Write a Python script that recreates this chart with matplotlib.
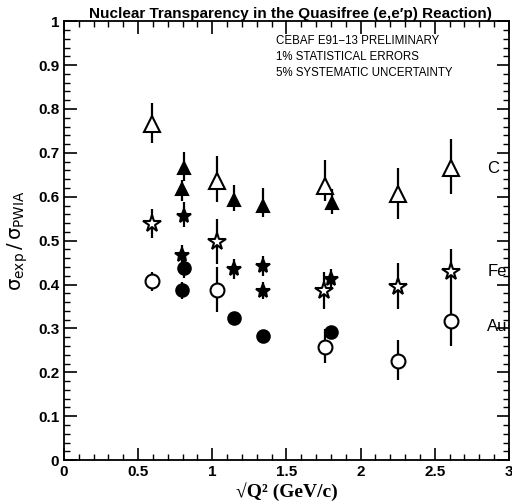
# -*- coding: utf-8 -*-

import numpy as np
import matplotlib
matplotlib.use("Agg")
import matplotlib.pyplot as plt
from matplotlib.ticker import MultipleLocator

# Kohlenstoff (C)
c_open_x = [0.59, 1.03, 1.76, 2.25, 2.61]
c_open_y = [0.765, 0.635, 0.625, 0.606, 0.665]
c_open_lo = [0.723, 0.587, 0.59, 0.549, 0.606]
c_open_hi = [0.814, 0.693, 0.683, 0.665, 0.731]

c_full_x = [0.795, 0.81, 1.145, 1.345, 1.805]
c_full_y = [0.617, 0.665, 0.592, 0.58, 0.585]
c_full_lo = [0.59, 0.636, 0.567, 0.553, 0.56]
c_full_hi = [0.638, 0.703, 0.627, 0.62, 0.617]

# Eisen (Fe)
fe_open_x = [0.59, 1.03, 1.755, 2.255, 2.61]
fe_open_y = [0.538, 0.498, 0.386, 0.395, 0.428]
fe_open_lo = [0.507, 0.447, 0.345, 0.345, 0.38]
fe_open_hi = [0.572, 0.549, 0.428, 0.45, 0.481]

fe_full_x = [0.795, 0.81, 1.145, 1.345, 1.345, 1.8]
fe_full_y = [0.468, 0.557, 0.436, 0.442, 0.386, 0.413]
fe_full_lo = [0.44, 0.53, 0.413, 0.42, 0.367, 0.394]
fe_full_hi = [0.491, 0.587, 0.458, 0.464, 0.405, 0.436]

# Gold (Au)
au_open_x = [0.59, 1.03, 1.76, 2.25, 2.61]
au_open_y = [0.408, 0.388, 0.258, 0.227, 0.318]
au_open_lo = [0.386, 0.337, 0.221, 0.183, 0.26]
au_open_hi = [0.428, 0.44, 0.298, 0.273, 0.38]

au_full_x = [0.795, 0.81, 1.145, 1.345, 1.8]
au_full_y = [0.388, 0.438, 0.323, 0.283, 0.292]
au_full_lo = [0.367, 0.415, 0.31, 0.27, 0.28]
au_full_hi = [0.405, 0.455, 0.335, 0.295, 0.305]

labels = ["C", "Fe", "Au"]
label_x = [2.855, 2.855, 2.855]
label_y = [0.665, 0.43, 0.305]

notes = ["CEBAF E91\u221213 PRELIMINARY",
         "1% STATISTICAL ERRORS",
         "5% SYSTEMATIC UNCERTAINTY"]


def draw(ax, x, y, lo, hi, marker, filled, size):
    y = np.array(y)
    err = [y - np.array(lo), np.array(hi) - y]
    ax.errorbar(x, y, yerr=err, fmt="none", ecolor="black", elinewidth=1.6,
                capsize=0, zorder=2)
    ax.plot(x, y, linestyle="none", marker=marker, markersize=size,
            markerfacecolor="black" if filled else "white",
            markeredgecolor="black", markeredgewidth=1.5, zorder=3)


fig = plt.figure(figsize=(5.12, 5.04), dpi=100)
ax = fig.add_axes([0.125, 0.087, 0.869, 0.871])

draw(ax, c_open_x, c_open_y, c_open_lo, c_open_hi, "^", False, 11)
draw(ax, c_full_x, c_full_y, c_full_lo, c_full_hi, "^", True, 9)
draw(ax, fe_open_x, fe_open_y, fe_open_lo, fe_open_hi, "*", False, 13)
draw(ax, fe_full_x, fe_full_y, fe_full_lo, fe_full_hi, "*", True, 10)
draw(ax, au_open_x, au_open_y, au_open_lo, au_open_hi, "o", False, 10)
draw(ax, au_full_x, au_full_y, au_full_lo, au_full_hi, "o", True, 9)

for lab, lx, ly in zip(labels, label_x, label_y):
    ax.text(lx, ly, lab, fontsize=12, family="Liberation Sans",
            va="center", ha="left")

for i, t in enumerate(notes):
    ax.text(1.43, 0.955 - i * 0.037, t, fontsize=8.3,
            family="Liberation Sans", va="center", ha="left")

ax.set_xlim(0, 3)
ax.set_ylim(0, 1)
ax.xaxis.set_major_locator(MultipleLocator(0.5))
ax.xaxis.set_minor_locator(MultipleLocator(0.1))
ax.yaxis.set_major_locator(MultipleLocator(0.1))
ax.yaxis.set_minor_locator(MultipleLocator(0.02))
ax.tick_params(which="both", direction="in", top=True, right=True)
ax.tick_params(which="major", length=9, width=1.2)
ax.tick_params(which="minor", length=4, width=1)
for s in ax.spines.values():
    s.set_linewidth(1.3)

ax.set_xticks([0, 0.5, 1, 1.5, 2, 2.5, 3])
ax.set_xticklabels(["0", "0.5", "1", "1.5", "2", "2.5", "3"])
ax.set_yticks(np.arange(0, 1.01, 0.1))
ax.set_yticklabels(["0", "0.1", "0.2", "0.3", "0.4", "0.5", "0.6",
                    "0.7", "0.8", "0.9", "1"])
for t in ax.get_xticklabels() + ax.get_yticklabels():
    t.set_fontfamily("Liberation Sans")
    t.set_fontweight("bold")
    t.set_fontsize(11)

ax.set_xlabel("\u221aQ\u00b2 (GeV/c)", family=["Liberation Serif", "DejaVu Serif"],
              fontweight="bold", fontsize=14, labelpad=2)
ax.set_ylabel(r"$\mathrm{\sigma_{exp}\,/\,\sigma_{PWIA}}$", fontsize=14,
              labelpad=6)
ax.set_title("Nuclear Transparency in the Quasifree (e,e\u2032p) Reaction)",
             family="Liberation Sans", fontweight="bold", fontsize=11,
             x=0.51, pad=2)

fig.savefig("out.png", dpi=100)
